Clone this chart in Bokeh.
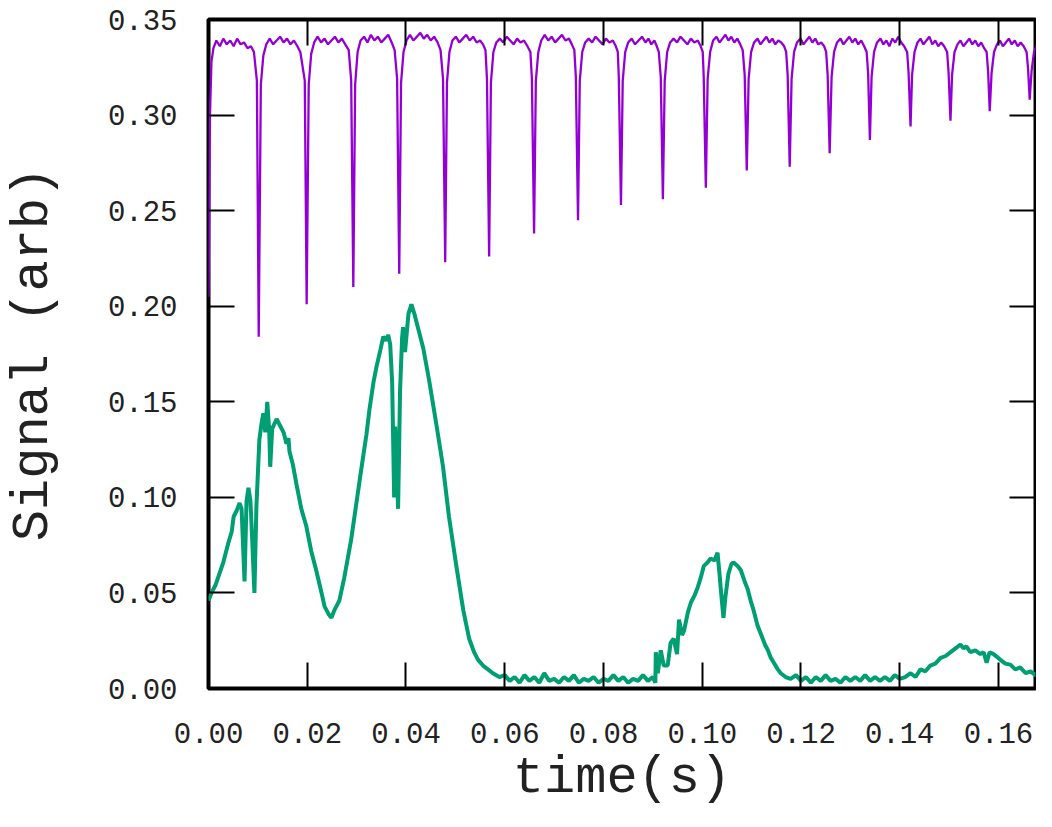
from bokeh.plotting import figure
from bokeh.models import Range1d, LinearAxis, FixedTicker, PrintfTickFormatter, CustomJSTickFormatter
from bokeh.embed import file_html
from bokeh.resources import INLINE

# ---------------- data ----------------
x_ticks = [0.00, 0.02, 0.04, 0.06, 0.08, 0.10, 0.12, 0.14, 0.16]
y_ticks = [0.00, 0.05, 0.10, 0.15, 0.20, 0.25, 0.30, 0.35]
x_title = "time(s)"
y_title = "Signal (arb)"

purple_t = [
    0.0000, 0.0003, 0.0006, 0.0010, 0.0016, 0.0023, 0.0030, 0.0037, 0.0044, 0.0051, 0.0058, 0.0065, 0.0072, 0.0079, 0.0086, 0.0092,
    0.0098, 0.01017, 0.0106, 0.0111, 0.0117,
    0.0124, 0.0131, 0.0138, 0.0145, 0.0152, 0.0159, 0.0166, 0.0173, 0.0180, 0.0186,
    0.0195, 0.01988, 0.0203, 0.0208, 0.0214,
    0.0221, 0.0228, 0.0235, 0.0242, 0.0249, 0.0256, 0.0263, 0.0270, 0.0277, 0.0284,
    0.0289, 0.02933, 0.0297, 0.0302, 0.0308,
    0.0315, 0.0322, 0.0329, 0.0336, 0.0343, 0.0350, 0.0357, 0.0364, 0.0371, 0.0377,
    0.0382, 0.03863, 0.0390, 0.0395, 0.0401,
    0.0408, 0.0415, 0.0422, 0.0429, 0.0436, 0.0443, 0.0450, 0.0457, 0.0464, 0.0470,
    0.0475, 0.04794, 0.0483, 0.0488, 0.0494,
    0.0501, 0.0508, 0.0515, 0.0522, 0.0529, 0.0536, 0.0543, 0.0550, 0.0556, 0.0561,
    0.0564, 0.05684, 0.0572, 0.0577, 0.0583,
    0.0590, 0.0597, 0.0604, 0.0611, 0.0618, 0.0625, 0.0632, 0.0639, 0.0646, 0.0652,
    0.0655, 0.06594, 0.0663, 0.0668, 0.0674,
    0.0681, 0.0688, 0.0695, 0.0702, 0.0709, 0.0716, 0.0723, 0.0730, 0.0736, 0.0741,
    0.0744, 0.07484, 0.0752, 0.0757, 0.0763,
    0.0770, 0.0777, 0.0784, 0.0791, 0.0798, 0.0805, 0.0812, 0.0819, 0.0825, 0.0829,
    0.0831, 0.08354, 0.0839, 0.0844, 0.0850,
    0.0857, 0.0864, 0.0871, 0.0878, 0.0885, 0.0891, 0.0897, 0.0903, 0.0908, 0.0912,
    0.0916, 0.09203, 0.0924, 0.0929, 0.0935,
    0.0942, 0.0949, 0.0956, 0.0963, 0.0970, 0.0977, 0.0984, 0.0991, 0.0997, 0.1001,
    0.1003, 0.10073, 0.1011, 0.1016, 0.1022,
    0.1029, 0.1035, 0.1041, 0.1047, 0.1053, 0.1059, 0.1065, 0.1071, 0.1077, 0.1082,
    0.1086, 0.10902, 0.1094, 0.1099, 0.1105,
    0.1112, 0.1118, 0.1124, 0.1130, 0.1136, 0.1142, 0.1148, 0.1154, 0.1160, 0.1166, 0.1170,
    0.1173, 0.11772, 0.1181, 0.1186, 0.1192,
    0.1199, 0.1205, 0.1211, 0.1217, 0.1223, 0.1229, 0.1235, 0.1241, 0.1247, 0.1251,
    0.1254, 0.12581, 0.1262, 0.1267, 0.1273,
    0.1280, 0.1286, 0.1292, 0.1298, 0.1304, 0.1310, 0.1316, 0.1322, 0.1328, 0.1333,
    0.1336, 0.13396, 0.1343, 0.1348, 0.1354,
    0.1361, 0.1367, 0.1373, 0.1379, 0.1385, 0.1391, 0.1397, 0.1403, 0.1409, 0.1415,
    0.1418, 0.14219, 0.1425, 0.1430, 0.1436,
    0.1442, 0.1448, 0.1454, 0.1460, 0.1466, 0.1472, 0.1478, 0.1484, 0.1490, 0.1496,
    0.1499, 0.15028, 0.1506, 0.1511, 0.1517,
    0.1523, 0.1529, 0.1535, 0.1541, 0.1547, 0.1553, 0.1559, 0.1565, 0.1571, 0.1576,
    0.1579, 0.15823, 0.1586, 0.1591, 0.1597,
    0.1603, 0.1609, 0.1615, 0.1621, 0.1627, 0.1633, 0.1639, 0.1645, 0.1651, 0.1657,
    0.1660, 0.16632, 0.1667, 0.1672, 0.1678,
    0.1684, 0.1690, 0.1696, 0.1702, 0.1708,
]
purple_y = [
    0.205, 0.300, 0.328, 0.335, 0.339, 0.336, 0.340, 0.337, 0.339, 0.336, 0.340, 0.337, 0.338, 0.335, 0.336, 0.333,
    0.318, 0.184, 0.316, 0.331, 0.337,
    0.340, 0.337, 0.339, 0.341, 0.338, 0.340, 0.337, 0.339, 0.336, 0.333,
    0.318, 0.201, 0.316, 0.332, 0.338,
    0.341, 0.338, 0.340, 0.337, 0.339, 0.341, 0.338, 0.340, 0.337, 0.334,
    0.318, 0.210, 0.316, 0.333, 0.339,
    0.341, 0.338, 0.342, 0.339, 0.341, 0.338, 0.340, 0.342, 0.338, 0.334,
    0.319, 0.217, 0.317, 0.333, 0.339,
    0.342, 0.339, 0.341, 0.343, 0.340, 0.342, 0.339, 0.341, 0.338, 0.334,
    0.319, 0.223, 0.317, 0.333, 0.339,
    0.341, 0.338, 0.340, 0.342, 0.339, 0.341, 0.338, 0.339, 0.337, 0.334,
    0.319, 0.226, 0.317, 0.333, 0.338,
    0.340, 0.338, 0.341, 0.339, 0.337, 0.340, 0.338, 0.339, 0.336, 0.333,
    0.319, 0.238, 0.318, 0.333, 0.339,
    0.342, 0.339, 0.341, 0.338, 0.340, 0.342, 0.339, 0.340, 0.337, 0.334,
    0.320, 0.245, 0.318, 0.333, 0.338,
    0.340, 0.338, 0.341, 0.339, 0.337, 0.340, 0.338, 0.339, 0.336, 0.333,
    0.320, 0.253, 0.318, 0.333, 0.338,
    0.340, 0.337, 0.339, 0.341, 0.338, 0.340, 0.337, 0.339, 0.336, 0.333,
    0.320, 0.256, 0.318, 0.333, 0.338,
    0.340, 0.338, 0.341, 0.339, 0.337, 0.340, 0.338, 0.339, 0.336, 0.333,
    0.320, 0.262, 0.319, 0.333, 0.339,
    0.341, 0.338, 0.340, 0.342, 0.339, 0.341, 0.338, 0.340, 0.337, 0.334,
    0.321, 0.271, 0.319, 0.333, 0.338,
    0.340, 0.337, 0.339, 0.341, 0.338, 0.340, 0.337, 0.339, 0.338, 0.336, 0.333,
    0.321, 0.273, 0.319, 0.333, 0.338,
    0.340, 0.337, 0.339, 0.341, 0.338, 0.340, 0.337, 0.338, 0.336, 0.333,
    0.321, 0.280, 0.320, 0.333, 0.338,
    0.340, 0.337, 0.339, 0.341, 0.338, 0.340, 0.337, 0.339, 0.336, 0.333,
    0.322, 0.287, 0.320, 0.333, 0.338,
    0.340, 0.337, 0.339, 0.336, 0.340, 0.338, 0.341, 0.338, 0.336, 0.333,
    0.322, 0.294, 0.321, 0.333, 0.338,
    0.340, 0.337, 0.339, 0.341, 0.337, 0.339, 0.336, 0.338, 0.336, 0.333,
    0.322, 0.297, 0.321, 0.333, 0.337,
    0.339, 0.336, 0.338, 0.340, 0.337, 0.339, 0.336, 0.338, 0.335, 0.333,
    0.323, 0.302, 0.322, 0.333, 0.337,
    0.339, 0.336, 0.338, 0.340, 0.337, 0.339, 0.336, 0.338, 0.336, 0.333,
    0.324, 0.308, 0.323, 0.333, 0.337,
    0.339, 0.336, 0.338, 0.336, 0.337,
]

green_t = [
    0.0000, 0.0006, 0.0014, 0.0022, 0.0030, 0.0040, 0.0047, 0.0051, 0.0057, 0.0063, 0.0067, 0.0073, 0.0077, 0.0081,
    0.0085, 0.0089, 0.0093, 0.0097, 0.0103, 0.0107, 0.0111, 0.0115, 0.0119, 0.0123, 0.0125, 0.0129, 0.0138, 0.0144,
    0.0152, 0.0158, 0.0162, 0.0164, 0.0171, 0.0178, 0.0188, 0.0198, 0.0208, 0.0218, 0.0229, 0.0235, 0.0243, 0.0249,
    0.0255, 0.0265, 0.0275, 0.0289, 0.0299, 0.0309, 0.0320, 0.0326, 0.0334, 0.0340, 0.0348, 0.0354, 0.0360, 0.0364,
    0.0368, 0.0372, 0.0376, 0.0378, 0.0380, 0.0384, 0.0388, 0.0392, 0.0394, 0.0398, 0.0405, 0.0411, 0.0417, 0.0421,
    0.0435, 0.0447, 0.0461, 0.0475, 0.0487, 0.0502, 0.0516, 0.0528, 0.0538, 0.0546, 0.0556, 0.0566, 0.0576, 0.0589,
    0.0600, 0.0610, 0.0620, 0.0630, 0.0640, 0.0650, 0.0660, 0.0670, 0.0680, 0.0690, 0.0700, 0.0710, 0.0720, 0.0730,
    0.0740, 0.0750, 0.0760, 0.0770, 0.0780, 0.0790, 0.0800, 0.0810, 0.0820, 0.0830, 0.0840, 0.0850, 0.0860, 0.0870,
    0.0880, 0.0890, 0.0900, 0.0905,
    0.0906, 0.0910, 0.0916, 0.0922, 0.0930, 0.0936, 0.0942, 0.0949, 0.0953, 0.0959, 0.0963, 0.0971, 0.0977, 0.0985,
    0.0991, 0.0997, 0.1003, 0.1011, 0.1017, 0.1025, 0.1031, 0.1035, 0.1039, 0.1043, 0.1047, 0.1053, 0.1059, 0.1063,
    0.1072, 0.1078, 0.1086, 0.1092, 0.1098, 0.1104, 0.1112, 0.1118, 0.1127, 0.1133, 0.1139, 0.1145, 0.1153, 0.1159,
    0.1169, 0.1179,
    0.1190, 0.1200, 0.1210, 0.1220, 0.1230, 0.1240, 0.1250, 0.1260, 0.1270, 0.1280, 0.1290, 0.1300, 0.1310, 0.1320,
    0.1330, 0.1340, 0.1350, 0.1360, 0.1370, 0.1380, 0.1390, 0.1400, 0.1411,
    0.1422, 0.1432, 0.1442, 0.1452, 0.1462, 0.1472, 0.1483, 0.1493, 0.1503, 0.1513, 0.1523, 0.1529, 0.1535, 0.1543,
    0.1553, 0.1563, 0.1570, 0.1576, 0.1582, 0.1590, 0.1604, 0.1614, 0.1624, 0.1634, 0.1644, 0.1655, 0.1665, 0.1675,
    0.1685, 0.1695, 0.1705,
]
green_y = [
    0.046, 0.050, 0.054, 0.060, 0.066, 0.076, 0.082, 0.090, 0.093, 0.097, 0.094, 0.056, 0.098, 0.105,
    0.098, 0.075, 0.050, 0.095, 0.130, 0.138, 0.144, 0.134, 0.150, 0.135, 0.116, 0.136, 0.141, 0.138,
    0.134, 0.128, 0.131, 0.124, 0.117, 0.107, 0.094, 0.085, 0.072, 0.062, 0.050, 0.043, 0.039, 0.037,
    0.041, 0.046, 0.058, 0.078, 0.096, 0.114, 0.133, 0.146, 0.160, 0.168, 0.177, 0.184, 0.182, 0.185,
    0.180, 0.160, 0.100, 0.137, 0.127, 0.094, 0.156, 0.183, 0.189, 0.176, 0.196, 0.201, 0.196, 0.192,
    0.178, 0.161, 0.139, 0.116, 0.090, 0.064, 0.041, 0.026, 0.019, 0.015, 0.012, 0.010, 0.008, 0.006,
    0.007, 0.004, 0.006, 0.003, 0.007, 0.004, 0.006, 0.003, 0.008, 0.004, 0.005, 0.003, 0.006, 0.004,
    0.007, 0.003, 0.005, 0.004, 0.006, 0.003, 0.005, 0.004, 0.007, 0.004, 0.006, 0.003, 0.005, 0.004,
    0.007, 0.004, 0.006, 0.003,
    0.019, 0.008, 0.020, 0.012, 0.012, 0.024, 0.026, 0.018, 0.036, 0.028, 0.030, 0.040, 0.045, 0.049,
    0.053, 0.058, 0.064, 0.066, 0.068, 0.067, 0.071, 0.060, 0.048, 0.037, 0.048, 0.060, 0.065, 0.066,
    0.064, 0.062, 0.056, 0.052, 0.046, 0.041, 0.033, 0.029, 0.023, 0.020, 0.016, 0.0135, 0.010, 0.008,
    0.006, 0.005,
    0.007, 0.004, 0.006, 0.003, 0.006, 0.004, 0.007, 0.004, 0.005, 0.003, 0.006, 0.004, 0.006, 0.004,
    0.007, 0.004, 0.006, 0.004, 0.006, 0.004, 0.007, 0.005, 0.006,
    0.008, 0.006, 0.010, 0.009, 0.012, 0.013, 0.016, 0.017, 0.019, 0.021, 0.023, 0.021, 0.022, 0.019,
    0.020, 0.018, 0.019, 0.0135, 0.019, 0.018, 0.015, 0.013, 0.0125, 0.010, 0.011, 0.008, 0.009, 0.007,
    0.009, 0.007, 0.008,
]

# ---------------- figure ----------------
FONT = "Liberation Mono"
TEXT_COLOR = "#222222"

W, H = 1036, 811
BL, BR, BT, BB = 208, 1, 19, 123

p = figure(width=W, height=H, output_backend="svg", toolbar_location=None,
           x_range=Range1d(0, 0.1675), y_range=Range1d(0, 0.35),
           min_border_left=BL, min_border_right=BR, min_border_top=BT, min_border_bottom=BB,
           x_axis_label=x_title, y_axis_label=y_title)
p.grid.visible = False
p.background_fill_color = "white"
p.border_fill_color = "white"
p.outline_line_color = "black"
p.outline_line_width = 4
p.outline_line_alpha = 1

p.line(purple_t, purple_y, line_color="#9400D3", line_width=2.3)
p.line(green_t, green_y, line_color="#009E73", line_width=4)

def style_axis(ax, labels=True):
    ax.axis_line_color = None
    ax.major_tick_in = 26
    ax.major_tick_out = 0
    ax.major_tick_line_width = 2
    ax.major_tick_line_color = "black"
    ax.minor_tick_line_color = None
    if labels:
        ax.major_label_text_font = FONT
        ax.major_label_text_font_size = "29px"
        ax.major_label_text_color = TEXT_COLOR
        ax.axis_label_text_font = FONT
        ax.axis_label_text_font_size = "52px"
        ax.axis_label_text_font_style = "normal"
        ax.axis_label_text_color = TEXT_COLOR
    else:
        ax.formatter = CustomJSTickFormatter(code="return ''")
        ax.major_label_standoff = 0

xt = FixedTicker(ticks=x_ticks)
yt = FixedTicker(ticks=y_ticks)

xa = p.xaxis[0]
xa.ticker = xt
xa.formatter = PrintfTickFormatter(format="%.2f")
style_axis(xa)
xa.major_label_standoff = 34
xa.axis_label_standoff = 3

ya = p.yaxis[0]
ya.ticker = yt
ya.formatter = PrintfTickFormatter(format="%.2f")
style_axis(ya)
ya.major_label_standoff = 31
ya.axis_label_standoff = 42

top = LinearAxis(ticker=xt)
style_axis(top, labels=False)
p.add_layout(top, "above")
right = LinearAxis(ticker=yt)
style_axis(right, labels=False)
p.add_layout(right, "right")

open("out.html", "w").write(file_html(p, INLINE))
